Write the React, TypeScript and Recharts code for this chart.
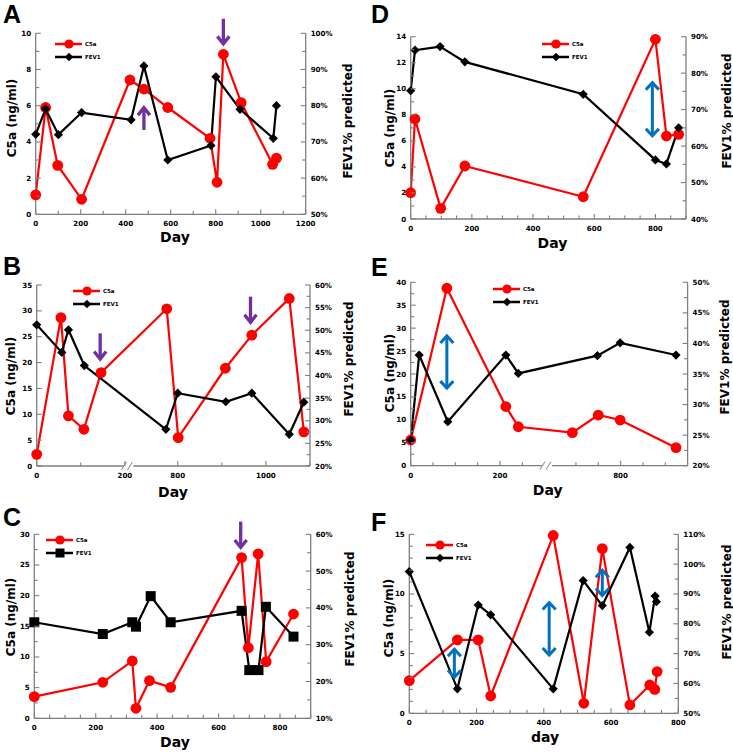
import React from 'react';
import { ComposedChart, Line, XAxis, YAxis, ReferenceLine, ReferenceDot, Legend } from 'recharts';

const RED = '#ff0000';
const BLACK = '#000000';
const PURPLE = '#7030a0';
const BLUE = '#0070c0';
const AXIS = '#7f7f7f';
const FONT = '"DejaVu Sans", Verdana, sans-serif';

// ---------- Panel A ----------
const aC5aDays = [0, 44, 98, 204, 419, 481, 587, 775, 806, 834, 913, 1053, 1070];
const aC5aValues = [1.07, 5.9, 2.7, 0.83, 7.42, 6.92, 5.9, 4.2, 1.77, 8.84, 6.17, 2.76, 3.1];
const aFevDays = [0, 44, 101, 204, 424, 481, 587, 779, 801, 908, 1056, 1070];
const aFevValues = [72.1, 79.1, 72, 78.1, 76.1, 91, 65, 69, 88, 79, 71, 80];
const aArrows = [
  { day: 834, from: 10.8, to: 9.36 },
  { day: 481, from: 4.66, to: 5.95 },
];

// ---------- Panel B ----------
const bC5aDays = [0, 55, 72, 107, 146, 775, 801, 908, 968, 1053, 1086];
const bC5aValues = [2.26, 28.7, 9.7, 7.1, 18.05, 30.4, 5.5, 18.9, 25.3, 32.4, 6.6];
const bFevDays = [0, 57, 72, 108, 773, 800, 909, 968, 1053, 1086];
const bFevValues = [51.2, 45.1, 50.1, 42.2, 28.1, 36.1, 34.2, 36.1, 27, 34.1];
const bArrows = [
  { day: 144, from: 25.66, to: 20.5 },
  { day: 965, from: 32.75, to: 27.6 },
];

// ---------- Panel C ----------
const cC5aDays = [0, 223, 319, 331, 375, 444, 675, 697, 729, 755, 844];
const cC5aValues = [3.53, 5.87, 9.35, 1.63, 6.14, 5.05, 26.2, 11.5, 26.8, 9.24, 17.0];
const cFevDays = [0, 223, 319, 331, 379, 444, 675, 700, 730, 754, 844];
const cFevValues = [36.1, 32.9, 36.1, 34.9, 43.2, 36.1, 39.2, 23.1, 23.1, 40.3, 32.2];
const cArrows = [{ day: 672, from: 32.07, to: 27.7 }];

// ---------- Panel D ----------
const dC5aDays = [0, 14, 98, 177, 564, 800, 836, 876];
const dC5aValues = [2.02, 7.68, 0.82, 4.07, 1.71, 13.8, 6.37, 6.5];
const dFevDays = [0, 14, 96, 177, 564, 800, 836, 876];
const dFevValues = [75.2, 86.3, 87.3, 83.1, 74.2, 56.2, 55.1, 65];
const dArrows = [{ day: 790, from: 10.55, to: 6.32 }];

// ---------- Panel E ----------
const eC5aDays = [0, 81, 213, 241, 692, 750, 799, 924];
const eC5aValues = [5.6, 38.7, 12.9, 8.5, 7.2, 11.05, 9.96, 3.93];
const eFevDays = [0, 19, 83, 213, 241, 748, 799, 924];
const eFevValues = [24.2, 38.1, 27.2, 38.1, 35.1, 38, 40.1, 38.1];
const eArrows = [{ day: 81, from: 28.5, to: 16.7 }];

// ---------- Panel F ----------
const fC5aDays = [0, 143, 205, 242, 428, 519, 574, 656, 715, 730, 737];
const fC5aValues = [2.74, 6.15, 6.15, 1.45, 14.9, 0.84, 13.8, 0.7, 2.37, 2.0, 3.5];
const fFevDays = [0, 143, 205, 242, 428, 517, 574, 656, 714, 731, 735];
const fFevValues = [97.5, 58.2, 86.3, 83, 58.2, 94.5, 86.1, 105.6, 77.2, 89.3, 87.4];
const fArrows = [
  { day: 134, from: 5.45, to: 2.93 },
  { day: 416, from: 9.36, to: 4.8 },
  { day: 574, from: 12.07, to: 9.78 },
];

// ---------- Tick labels ----------
const range = (a: number, b: number, s: number) => {
  const out: number[] = [];
  for (let v = a; v <= b + 1e-9; v += s) out.push(Math.round(v * 100) / 100);
  return out;
};
const aXLabels = [0, 200, 400, 600, 800, 1000, 1200];
const aLLabels = [0, 2, 4, 6, 8, 10];
const aRLabels = [50, 60, 70, 80, 90, 100];
const bXTicks = [0, 100, 200, 800, 900, 1000, 1100];
const bXLabels = [0, 200, 800, 1000];
const bLLabels = [0, 5, 10, 15, 20, 25, 30, 35];
const bRLabels = [20, 25, 30, 35, 40, 45, 50, 55, 60];
const cXLabels = [0, 200, 400, 600, 800];
const cLLabels = [0, 5, 10, 15, 20, 25, 30];
const cRLabels = [10, 20, 30, 40, 50, 60];
const dXLabels = [0, 200, 400, 600, 800];
const dLLabels = [0, 2, 4, 6, 8, 10, 12, 14];
const dRLabels = [40, 50, 60, 70, 80, 90];
const eXTicks = [0, 50, 100, 150, 200, 250, 700, 750, 800, 850, 900, 950];
const eXLabels = [0, 200, 800];
const eLLabels = [0, 5, 10, 15, 20, 25, 30, 35, 40];
const eRLabels = [20, 25, 30, 35, 40, 45, 50];
const fXLabels = [0, 200, 400, 600, 800];
const fLLabels = [0, 5, 10, 15];
const fRLabels = [50, 60, 70, 80, 90, 100, 110];

type Arrow = { day: number; from: number; to: number };
type Cfg = {
  letter: string;
  letterPos: [number, number];
  box: [number, number, number, number];
  plot: [number, number, number, number];
  map: (d: number) => number;
  xDomain: [number, number];
  xTicks: number[];
  xLabels: number[];
  lDomain: [number, number];
  lTicks: number[];
  lLabels: number[];
  rDomain: [number, number];
  rTicks: number[];
  rLabels: number[];
  c5aDays: number[];
  c5aVals: number[];
  fevDays: number[];
  fevVals: number[];
  square?: boolean;
  arrows: Arrow[];
  arrowColor: string;
  double: boolean;
  breakDay?: number;
  legend: [number, number];
  leftTitle: [number, number];
  rightTitle: [number, number];
  xTitle: [number, number];
  xTitleText: string;
};

const ident = (d: number) => d;

const panels: Cfg[] = [
  {
    letter: 'A', letterPos: [3, 2], box: [0, 0, 365, 245], plot: [35.7, 33.3, 305.7, 214.3],
    map: ident, xDomain: [0, 1200], xTicks: range(0, 1200, 100), xLabels: aXLabels,
    lDomain: [0, 10], lTicks: range(0, 10, 1), lLabels: aLLabels,
    rDomain: [50, 100], rTicks: range(50, 100, 5), rLabels: aRLabels,
    c5aDays: aC5aDays, c5aVals: aC5aValues, fevDays: aFevDays, fevVals: aFevValues,
    arrows: aArrows, arrowColor: PURPLE, double: false,
    legend: [55, 36.5], leftTitle: [11.5, 118], rightTitle: [348, 121], xTitle: [175, 237], xTitleText: 'Day',
  },
  {
    letter: 'D', letterPos: [371, 2], box: [365, 0, 368, 245], plot: [410.7, 36.7, 686, 219],
    map: ident, xDomain: [0, 900], xTicks: range(0, 900, 50), xLabels: dXLabels,
    lDomain: [0, 14], lTicks: range(0, 14, 1), lLabels: dLLabels,
    rDomain: [40, 90], rTicks: range(40, 90, 5), rLabels: dRLabels,
    c5aDays: dC5aDays, c5aVals: dC5aValues, fevDays: dFevDays, fevVals: dFevValues,
    arrows: dArrows, arrowColor: BLUE, double: true,
    legend: [542, 36.5], leftTitle: [389.5, 128], rightTitle: [726.5, 111], xTitle: [552.5, 243], xTitleText: 'Day',
  },
  {
    letter: 'B', letterPos: [3, 254], box: [0, 245, 365, 255], plot: [36.7, 285, 310, 466],
    map: (d) => (d > 500 ? d - 480 : d), xDomain: [0, 1100], xTicks: bXTicks, xLabels: bXLabels,
    lDomain: [0, 35], lTicks: range(0, 35, 5), lLabels: bLLabels,
    rDomain: [20, 60], rTicks: range(20, 60, 2.5), rLabels: bRLabels,
    c5aDays: bC5aDays, c5aVals: bC5aValues, fevDays: bFevDays, fevVals: bFevValues,
    arrows: bArrows, arrowColor: PURPLE, double: false, breakDay: 208,
    legend: [73, 284], leftTitle: [11, 375.5], rightTitle: [348.5, 359], xTitle: [173, 491.5], xTitleText: 'Day',
  },
  {
    letter: 'E', letterPos: [371, 255], box: [365, 245, 368, 255], plot: [410.7, 282.3, 687.6, 465.7],
    map: (d) => (d > 500 ? d - 330 : d), xDomain: [0, 950], xTicks: eXTicks, xLabels: eXLabels,
    lDomain: [0, 40], lTicks: range(0, 40, 2.5), lLabels: eLLabels,
    rDomain: [20, 50], rTicks: range(20, 50, 2.5), rLabels: eRLabels,
    c5aDays: eC5aDays, c5aVals: eC5aValues, fevDays: eFevDays, fevVals: eFevValues,
    arrows: eArrows, arrowColor: BLUE, double: true, breakDay: 305,
    legend: [493, 281.5], leftTitle: [389.5, 373], rightTitle: [725, 357], xTitle: [547.7, 490], xTitleText: 'Day',
  },
  {
    letter: 'C', letterPos: [3, 505], box: [0, 495, 365, 257], plot: [34.3, 534.3, 310.7, 718.3],
    map: ident, xDomain: [0, 900], xTicks: range(0, 900, 50), xLabels: cXLabels,
    lDomain: [0, 30], lTicks: range(0, 30, 2.5), lLabels: cLLabels,
    rDomain: [10, 60], rTicks: range(10, 60, 5), rLabels: cRLabels,
    c5aDays: cC5aDays, c5aVals: cC5aValues, fevDays: cFevDays, fevVals: cFevValues, square: true,
    arrows: cArrows, arrowColor: PURPLE, double: false,
    legend: [46, 532.5], leftTitle: [11, 616.7], rightTitle: [350, 609], xTitle: [175, 742], xTitleText: 'Day',
  },
  {
    letter: 'F', letterPos: [371, 510], box: [365, 495, 368, 257], plot: [409.3, 534.3, 678.3, 713.3],
    map: ident, xDomain: [0, 800], xTicks: range(0, 800, 50), xLabels: fXLabels,
    lDomain: [0, 15], lTicks: range(0, 15, 1), lLabels: fLLabels,
    rDomain: [50, 110], rTicks: range(50, 110, 5), rLabels: fRLabels,
    c5aDays: fC5aDays, c5aVals: fC5aValues, fevDays: fFevDays, fevVals: fFevValues,
    arrows: fArrows, arrowColor: BLUE, double: true,
    legend: [426, 537.5], leftTitle: [389, 618], rightTitle: [726.5, 602], xTitle: [545, 737], xTitleText: 'day',
  },
];

const tickText = { fontFamily: FONT, fontWeight: 700, fontSize: 7.1, fill: '#000' } as const;

const makeArrowShape = (color: string, double: boolean) => (props: any) => {
  const { x1, y1, x2, y2 } = props;
  if ([x1, y1, x2, y2].some((v) => typeof v !== 'number' || isNaN(v))) return <g />;
  const w = double ? 3 : 3.3;
  const L = double ? 8 : 8.5;
  const W = double ? 6.5 : 6;
  const dir = Math.sign(y2 - y1) || 1;
  const head = (tx: number, ty: number, d: number) => (
    <polyline
      points={`${tx - W},${ty - d * L} ${tx},${ty - d * 1} ${tx + W},${ty - d * L}`}
      fill="none"
      stroke={color}
      strokeWidth={w}
      strokeLinejoin="miter"
    />
  );
  return (
    <g>
      <line x1={x1} y1={y1 + (double ? dir * 1.5 : 0)} x2={x2} y2={y2 - dir * 1.5} stroke={color} strokeWidth={w} />
      {head(x2, y2, dir)}
      {double && head(x1, y1, -dir)}
    </g>
  );
};

const breakShape = (props: any) => {
  const { cx, cy } = props;
  if (typeof cx !== 'number') return <g />;
  return (
    <g>
      <rect x={cx - 5} y={cy - 2} width={10} height={4} fill="#fff" />
      <line x1={cx - 7} y1={cy + 4} x2={cx - 2} y2={cy - 4} stroke={AXIS} strokeWidth={1} />
      <line x1={cx - 1} y1={cy + 4} x2={cx + 4} y2={cy - 4} stroke={AXIS} strokeWidth={1} />
    </g>
  );
};

function Panel({ c }: { c: Cfg }) {
  const [bl, bt, bw, bh] = c.box;
  const [pl, pt, pr, pb] = c.plot;
  const LW = 30;
  const RW = 30;
  const XH = 20;
  const margin = { left: pl - bl - LW, right: bl + bw - pr - RW, top: pt - bt, bottom: bt + bh - pb - XH };
  const c5a = c.c5aDays.map((d, i) => ({ x: c.map(d), y: c.c5aVals[i] }));
  const fev = c.fevDays.map((d, i) => ({ x: c.map(d), y: c.fevVals[i] }));
  const xt = c.xTicks.map(c.map);

  const xTick = (props: any) => {
    const { x, y, payload, index } = props;
    const day = c.xTicks[xt.indexOf(payload.value)];
    const major = c.xLabels.includes(day);
    return (
      <g key={`xt-${index}`}>
        <line x1={x} y1={y} x2={x} y2={y - (major ? 5 : 3.5)} stroke={AXIS} strokeWidth={1.1} />
        {major && (
          <text x={x} y={y + 9.5} textAnchor="middle" dominantBaseline="central" {...tickText}>
            {day}
          </text>
        )}
      </g>
    );
  };
  const lTick = (props: any) => {
    const { x, y, payload, index } = props;
    const major = c.lLabels.includes(payload.value);
    return (
      <g key={`lt-${index}`}>
        <line x1={x} y1={y} x2={x + (major ? 5 : 3.5)} y2={y} stroke={AXIS} strokeWidth={1.1} />
        {major && (
          <text x={x - 4.5} y={y} textAnchor="end" dominantBaseline="central" {...tickText}>
            {payload.value}
          </text>
        )}
      </g>
    );
  };
  const rTick = (props: any) => {
    const { x, y, payload, index } = props;
    const major = c.rLabels.includes(payload.value);
    return (
      <g key={`rt-${index}`}>
        <line x1={x} y1={y} x2={x - (major ? 5 : 3.5)} y2={y} stroke={AXIS} strokeWidth={1.1} />
        {major && (
          <text x={x + 5} y={y} textAnchor="start" dominantBaseline="central" {...tickText}>
            {`${payload.value}%`}
          </text>
        )}
      </g>
    );
  };

  const circleDot = (p: any) => <circle key={`c-${p.index}`} cx={p.cx} cy={p.cy} r={5.4} fill={RED} stroke="none" />;
  const fevDot = (p: any) =>
    c.square ? (
      <rect key={`f-${p.index}`} x={p.cx - 5} y={p.cy - 5} width={10} height={10} fill={BLACK} />
    ) : (
      <polygon
        key={`f-${p.index}`}
        points={`${p.cx},${p.cy - 4.6} ${p.cx + 4.6},${p.cy} ${p.cx},${p.cy + 4.6} ${p.cx - 4.6},${p.cy}`}
        fill={BLACK}
      />
    );

  const legendContent = (props: any) => {
    const items = (props.payload || []) as any[];
    return (
      <svg width={50} height={28} style={{ display: 'block' }}>
        {items.map((it, i) => {
          const cy = 7 + i * 13;
          const isC5a = it.value === 'C5a';
          const col = isC5a ? RED : BLACK;
          return (
            <g key={it.value}>
              <line x1={0} y1={cy} x2={27} y2={cy} stroke={col} strokeWidth={2.5} />
              {isC5a ? (
                <circle cx={14} cy={cy} r={4.6} fill={RED} />
              ) : c.square ? (
                <rect x={9.5} y={cy - 4.5} width={9} height={9} fill={BLACK} />
              ) : (
                <polygon points={`14,${cy - 4.2} 18.2,${cy} 14,${cy + 4.2} 9.8,${cy}`} fill={BLACK} />
              )}
              <text x={30} y={cy} dominantBaseline="central" fontFamily={FONT} fontWeight={700} fontSize={5.5} fill="#000">
                {it.value}
              </text>
            </g>
          );
        })}
      </svg>
    );
  };

  const arrowShape = makeArrowShape(c.arrowColor, c.double);
  const rot = (deg: number): React.CSSProperties => ({
    position: 'absolute',
    transform: `translate(-50%, -50%) rotate(${deg}deg)`,
    whiteSpace: 'nowrap',
    fontFamily: FONT,
    fontWeight: 700,
    fontSize: 12,
    lineHeight: '14px',
    color: '#000',
  });

  return (
    <div style={{ position: 'absolute', left: bl, top: bt, width: bw, height: bh }}>
      <ComposedChart width={bw} height={bh} margin={margin}>
        <XAxis
          type="number"
          dataKey="x"
          domain={[c.map(c.xDomain[0]), c.map(c.xDomain[1])]}
          ticks={xt}
          interval={0}
          tickSize={0}
          tickMargin={0}
          tickLine={false}
          axisLine={{ stroke: AXIS, strokeWidth: 1.3 }}
          height={XH}
          tick={xTick}
        />
        <YAxis
          yAxisId="l"
          orientation="left"
          type="number"
          domain={c.lDomain}
          ticks={c.lTicks}
          interval={0}
          tickSize={0}
          tickMargin={0}
          tickLine={false}
          axisLine={{ stroke: AXIS, strokeWidth: 1.3 }}
          width={LW}
          tick={lTick}
        />
        <YAxis
          yAxisId="r"
          orientation="right"
          type="number"
          domain={c.rDomain}
          ticks={c.rTicks}
          interval={0}
          tickSize={0}
          tickMargin={0}
          tickLine={false}
          axisLine={{ stroke: AXIS, strokeWidth: 1.3 }}
          width={RW}
          tick={rTick}
        />
        <Legend
          layout="horizontal"
          verticalAlign="middle"
          align="center"
          width={50}
          height={28}
          wrapperStyle={{ left: c.legend[0] - bl, top: c.legend[1] - bt, width: 50, height: 28 }}
          content={legendContent}
        />
        <Line
          yAxisId="l"
          data={c5a}
          dataKey="y"
          name="C5a"
          stroke={RED}
          strokeWidth={2.2}
          dot={circleDot}
          activeDot={false}
          isAnimationActive={false}
        />
        <Line
          yAxisId="r"
          data={fev}
          dataKey="y"
          name="FEV1"
          stroke={BLACK}
          strokeWidth={2.2}
          dot={fevDot}
          activeDot={false}
          isAnimationActive={false}
        />
        {c.breakDay !== undefined && (
          <ReferenceDot yAxisId="l" x={c.map(c.breakDay)} y={c.lDomain[0]} ifOverflow="visible" shape={breakShape} />
        )}
        {c.arrows.map((a, i) => (
          <ReferenceLine
            key={`ar-${i}`}
            yAxisId="l"
            segment={[
              { x: c.map(a.day), y: a.from },
              { x: c.map(a.day), y: a.to },
            ]}
            ifOverflow="visible"
            shape={arrowShape}
          />
        ))}
      </ComposedChart>
      <div
        style={{
          position: 'absolute',
          left: c.letterPos[0] - bl,
          top: c.letterPos[1] - bt,
          fontFamily: '"Liberation Sans", Arial, sans-serif',
          fontWeight: 700,
          fontSize: 25,
          lineHeight: '25px',
          color: '#000',
        }}
      >
        {c.letter}
      </div>
      <div style={{ ...rot(-90), left: c.leftTitle[0] - bl, top: c.leftTitle[1] - bt }}>C5a (ng/ml)</div>
      <div style={{ ...rot(-90), left: c.rightTitle[0] - bl, top: c.rightTitle[1] - bt }}>FEV1% predicted</div>
      <div style={{ ...rot(0), fontSize: 14, left: c.xTitle[0] - bl, top: c.xTitle[1] - bt }}>{c.xTitleText}</div>
    </div>
  );
}

export default function App() {
  return (
    <div style={{ position: 'absolute', left: 0, top: 0, width: 733, height: 752, background: '#fff', overflow: 'hidden' }}>
      {panels.map((p) => (
        <Panel key={p.letter} c={p} />
      ))}
    </div>
  );
}
